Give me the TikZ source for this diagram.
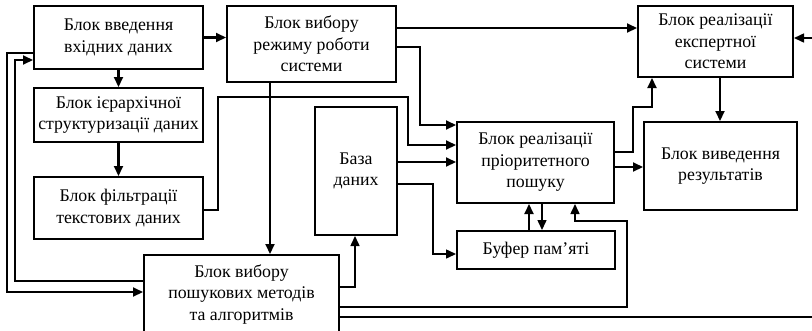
\documentclass[tikz,border=0pt]{standalone}
\usepackage{fontspec}
\setmainfont{Liberation Serif}
\usetikzlibrary{arrows.meta}
\begin{document}
\begin{tikzpicture}[x=1pt,y=-1pt,
  box/.style={draw, line width=2pt, align=center, inner sep=0pt,
    font=\fontsize{17.8}{21.5}\selectfont},
  conn/.style={line width=2.1pt, -{Triangle[length=10pt,width=9pt]}},
  thinconn/.style={line width=1.5pt, -{Triangle[length=10pt,width=9pt]}}]
\useasboundingbox (0,0) rectangle (812,330);
\clip (0,0) rectangle (812,330);
\node[box, minimum width=169pt, minimum height=63pt] (B1) at (118.5,37.5) {Блок введення\\вхідних даних};
\node[box, minimum width=169pt, minimum height=76pt] (B2) at (311.5,44) {Блок вибору\\режиму роботи\\системи};
\node[box, minimum width=155pt, minimum height=71pt] (B3) at (715.5,41.5) {Блок реалізації\\експертної\\системи};
\node[box, minimum width=169pt, minimum height=54pt] (B4) at (118.5,115) {Блок ієрархічної\\структуризації даних};
\node[box, minimum width=169pt, minimum height=62pt] (B5) at (118.5,208) {Блок фільтрації\\текстових даних};
\node[box, minimum width=82pt, minimum height=128pt] (B6) at (356,171) {База\\даних};
\node[box, minimum width=157pt, minimum height=81pt] (B7) at (535.5,162.5) {Блок реалізації\\пріоритетного\\пошуку};
\node[box, minimum width=153pt, minimum height=88pt] (B8) at (720.5,166) {Блок виведення\\результатів};
\node[box, minimum width=158pt, minimum height=38pt] (B9) at (536,250) {Буфер пам’яті};
\node[box, minimum width=195pt, minimum height=79pt] (B10) at (241.5,294.5) {Блок вибору\\пошукових методів\\та алгоритмів};
% connectors
\draw[conn] (B1.east) -- (B2.west |- B1.east);
\draw[conn] (B1.south) -- (B4.north);
\draw[conn] (B4.south) -- (B5.north);
\draw[conn] (B2.east |- 0,28) -- (B3.west |- 0,28);
\draw[conn] (B2.east |- 0,47) -| (420,125) -- (B7.west |- 0,125);
\draw[conn] (B5.east |- 0,210) -| (218,97) -| (408,145) -- (B7.west |- 0,145);
\draw[conn] (B2.south -| 270,0) -- (B10.north -| 270,0);
\draw[conn] (B6.east |- 0,162) -- (B7.west |- 0,162);
\draw[thinconn] (B6.east |- 0,184) -| (433,254) -- (B9.west |- 0,254);
\draw[thinconn] (B10.east |- 0,287) -| (B6.south -| 355,0);
\draw[thinconn] (B10.east |- 0,307) -| (627,221) -| (B7.south -| 575,0);
\coordinate (R) at (830,317);
\draw[thinconn] (B10.east |- 0,317) -- (R) |- (B3.east |- 0,38);
\draw[conn] (B9.north -| 529,0) -- (B7.south -| 529,0);
\draw[thinconn] (B7.south -| 542,0) -- (B9.north -| 542,0);
\draw[conn] (B7.east |- 0,152) -| (633,107) -| (B3.south -| 652,0);
\draw[conn] (B7.east |- 0,167) -- (B8.west |- 0,167);
\draw[conn] (B3.south -| 720,0) -- (B8.north -| 720,0);
\draw[conn] (B1.west |- 0,53) -| (7,292) -- (B10.west |- 0,292);
\draw[conn] (B10.west |- 0,281) -| (15,60) -- (B1.west |- 0,60);
\end{tikzpicture}
\end{document}
